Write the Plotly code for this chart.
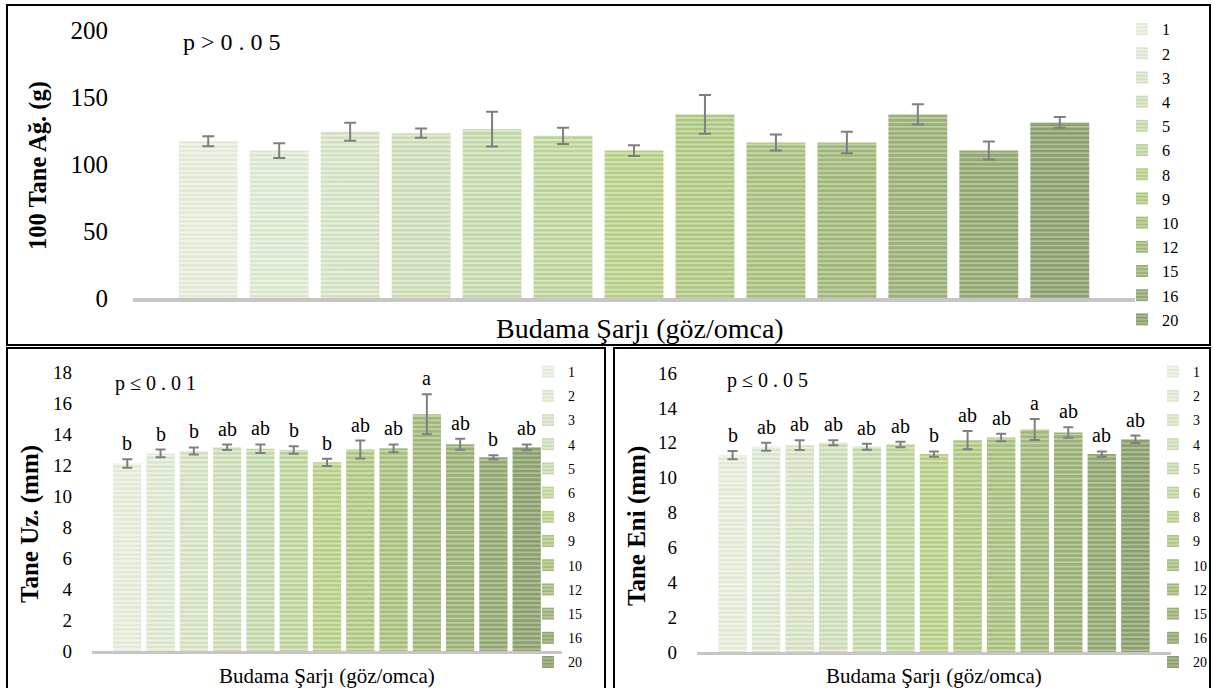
import plotly.graph_objects as go

W, H = 1213, 688

categories = ["1", "2", "3", "4", "5", "6", "8", "9", "10", "12", "15", "16", "20"]

weight = [117, 110, 124, 123, 126, 121, 110, 137, 116, 116, 137, 110, 131]
weight_err = [3.7, 5.5, 6.7, 3.5, 13, 6, 4, 14.5, 6, 8, 7.5, 6.7, 4]

length = [12.1, 12.75, 12.9, 13.14, 13.05, 12.97, 12.17, 13.0, 13.08, 15.27, 13.34, 12.5, 13.14]
length_err = [0.27, 0.25, 0.23, 0.18, 0.28, 0.24, 0.23, 0.58, 0.25, 1.29, 0.36, 0.13, 0.19]
length_letters = ["b", "b", "b", "ab", "ab", "b", "b", "ab", "ab", "a", "ab", "b", "ab"]

width_mm = [11.29, 11.77, 11.86, 12.0, 11.77, 11.9, 11.35, 12.15, 12.3, 12.76, 12.59, 11.35, 12.2]
width_err = [0.24, 0.23, 0.28, 0.15, 0.17, 0.16, 0.15, 0.52, 0.22, 0.6, 0.3, 0.15, 0.21]
width_letters = ["b", "ab", "ab", "ab", "ab", "ab", "b", "ab", "ab", "a", "ab", "ab", "ab"]

stripe_colors = ["#ccdcba", "#c2d5ab", "#b7ce9a", "#abc688", "#a0bf76", "#95b962", "#8fb443",
                 "#84a93f", "#7b9f3c", "#739539", "#6b8b36", "#638133", "#5b772f"]

FONT = "Liberation Serif"


def tint(hexc, f):
    r, g, b = int(hexc[1:3], 16), int(hexc[3:5], 16), int(hexc[5:7], 16)
    r, g, b = [round(c + (255 - c) * f) for c in (r, g, b)]
    return "#%02x%02x%02x" % (r, g, b)


def px_x(p):
    return p / W


def px_y(p):
    return 1 - p / H


fig = go.Figure()

panels = [
    dict(vals=weight, errs=weight_err, xa="x", ya="y", legend="legend", bw=0.83, cap=6, letters=None),
    dict(vals=length, errs=length_err, xa="x2", ya="y2", legend="legend2", bw=0.85, cap=5, letters=length_letters),
    dict(vals=width_mm, errs=width_err, xa="x3", ya="y3", legend="legend3", bw=0.85, cap=5, letters=width_letters),
]

n = len(categories)
for pi, p in enumerate(panels):
    for i, cat in enumerate(categories):
        bg = tint(stripe_colors[i], 0.8 - 0.22 * i / (n - 1))
        fig.add_trace(go.Bar(
            x=[i], y=[p["vals"][i]], width=[p["bw"]], name=cat,
            xaxis=p["xa"], yaxis=p["ya"], legend=p["legend"],
            legendgroup=f"{p['legend']}_{cat}",
            marker=dict(color=stripe_colors[i], line=dict(width=0),
                        pattern=dict(shape="-", size=4.4, solidity=0.68,
                                     fgcolor=stripe_colors[i], bgcolor=bg)),
            error_y=dict(type="data", array=[p["errs"][i]], visible=True, color="#7f7f7f",
                         thickness=2, width=p["cap"]),
            hoverinfo="skip",
        ))
    if p["letters"]:
        for i, lab in enumerate(p["letters"]):
            fig.add_annotation(x=i, y=p["vals"][i] + p["errs"][i], xref=p["xa"], yref=p["ya"],
                               text=lab, showarrow=False, yanchor="bottom", yshift=3,
                               font=dict(family=FONT, size=20, color="black"))

xcommon = dict(range=[-1.06, 13.06], showticklabels=False, showgrid=False, zeroline=False,
               showline=True, linecolor="#c6c6c6", ticks="", fixedrange=True)

fig.update_layout(
    width=W, height=H, margin=dict(l=0, r=0, t=0, b=0, pad=0, autoexpand=False),
    paper_bgcolor="white", plot_bgcolor="white",
    barmode="overlay", hovermode=False,
    font=dict(family=FONT, color="black"),
    xaxis=dict(domain=[px_x(133), px_x(1135)], anchor="y", linewidth=4, **xcommon),
    yaxis=dict(domain=[px_y(298), px_y(30)], anchor="x", range=[0, 200], dtick=50,
               showgrid=False, zeroline=False, showline=False, ticks="",
               tickfont=dict(family=FONT, size=25), ticklabelstandoff=24),
    xaxis2=dict(domain=[px_x(92), px_x(562)], anchor="y2", linewidth=3, **xcommon),
    yaxis2=dict(domain=[px_y(651), px_y(372)], anchor="x2", range=[0, 18], dtick=2,
                showgrid=False, zeroline=False, showline=False, ticks="",
                tickfont=dict(family=FONT, size=19), ticklabelstandoff=19),
    xaxis3=dict(domain=[px_x(697), px_x(1171)], anchor="y3", linewidth=3, **xcommon),
    yaxis3=dict(domain=[px_y(652), px_y(373)], anchor="x3", range=[0, 16], dtick=2,
                showgrid=False, zeroline=False, showline=False, ticks="",
                tickfont=dict(family=FONT, size=19), ticklabelstandoff=19),
    legend=dict(x=px_x(1122), y=px_y(12), xanchor="left", yanchor="top",
                font=dict(family=FONT, size=16.3), bgcolor="rgba(0,0,0,0)", tracegroupgap=0),
    legend2=dict(x=px_x(528), y=px_y(356), xanchor="left", yanchor="top",
                 font=dict(family=FONT, size=14), bgcolor="rgba(0,0,0,0)", tracegroupgap=3),
    legend3=dict(x=px_x(1153), y=px_y(356), xanchor="left", yanchor="top",
                 font=dict(family=FONT, size=14), bgcolor="rgba(0,0,0,0)", tracegroupgap=3),
)

# panel frames
frames = [(7, 5, 1210, 345), (7, 348, 605, 720), (614, 348, 1210, 720)]
for x0, y0, x1, y1 in frames:
    fig.add_shape(type="rect", xref="paper", yref="paper",
                  x0=px_x(x0), x1=px_x(x1), y0=px_y(y1), y1=px_y(y0),
                  line=dict(color="black", width=2), fillcolor="rgba(0,0,0,0)")

texts = [
    # (text, x, y, size, bold, angle)
    ("100 Tane Ağ. (g)", 38, 166, 24.5, True, -90),
    ("Budama Şarjı (göz/omca)", 640, 328, 28, False, 0),
    ("p > 0 . 0 5", 232, 42, 24, False, 0),
    ("Tane Uz. (mm)", 30, 524, 25, True, -90),
    ("Budama Şarjı (göz/omca)", 327, 676, 21, False, 0),
    ("p ≤ 0 . 0 1", 155, 383, 20, False, 0),
    ("Tane Eni (mm)", 637, 526, 25, True, -90),
    ("Budama Şarjı (göz/omca)", 934, 676, 21, False, 0),
    ("p ≤ 0 . 0 5", 767, 380, 20, False, 0),
]
for t, x, y, s, b, a in texts:
    fig.add_annotation(x=px_x(x), y=px_y(y), xref="paper", yref="paper", showarrow=False,
                       text=f"<b>{t}</b>" if b else t, textangle=a,
                       xanchor="center", yanchor="middle",
                       font=dict(family=FONT, size=s, color="black"))

fig.write_html("out.html", config={"displayModeBar": False, "staticPlot": True},
               post_script="document.body.style.margin='0';document.body.style.overflow='hidden';")
